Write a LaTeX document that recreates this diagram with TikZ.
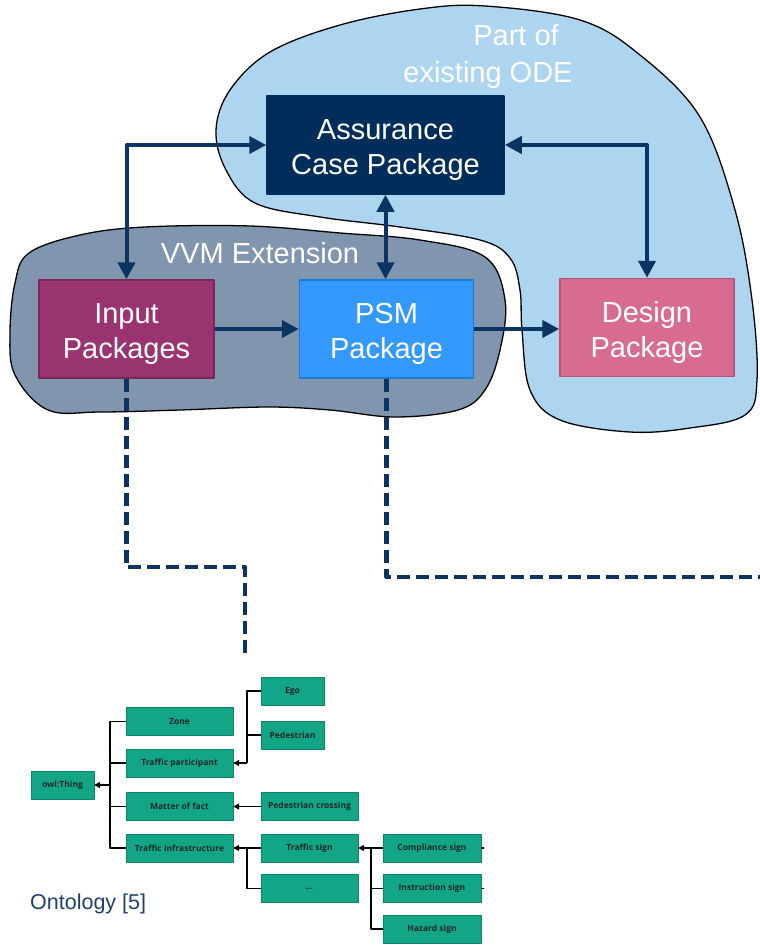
\documentclass[tikz,border=0pt]{standalone}
\usepackage{fontspec}
\setmainfont{Liberation Sans}
\newfontfamily\ontofont{Open Sans}
\usetikzlibrary{arrows.meta}

\definecolor{odeblue}{HTML}{AED5F0}
\definecolor{vvmgray}{HTML}{8096AE}
\definecolor{navy}{HTML}{002D5A}
\definecolor{flowcol}{HTML}{0B3462}
\definecolor{inpcol}{HTML}{9A3470}
\definecolor{inpedge}{HTML}{7A2758}
\definecolor{psmcol}{HTML}{3399FF}
\definecolor{psmedge}{HTML}{1E78D6}
\definecolor{descol}{HTML}{D86C8F}
\definecolor{desedge}{HTML}{B8527A}
\definecolor{teal}{HTML}{12A586}
\definecolor{ontotext}{HTML}{1E2A2A}
\definecolor{ontolabel}{HTML}{1F3F6E}
\newcommand{\pkgstrut}{\rule{0pt}{31pt}}

\begin{document}
\begin{tikzpicture}[x=1pt,y=-1pt,line join=round,
  pkg/.style={minimum height=98pt,text=white,align=center,line width=1.5pt,
    font=\fontsize{29}{35}\selectfont},
  flow/.style={draw=flowcol,line width=4pt,
    arrows={{Triangle[length=17pt,width=17pt]}-{Triangle[length=17pt,width=17pt]}}},
  oneway/.style={draw=flowcol,line width=4pt,-{Triangle[length=17pt,width=17pt]}},
  link/.style={draw=flowcol,line width=4.5pt,dash pattern=on 13pt off 6pt},
  onto/.style={fill=teal,draw=teal!80!black,line width=0.4pt,minimum height=28pt,
    text=ontotext,font=\ontofont\bfseries\fontsize{8.5}{10}\selectfont},
  treeline/.style={draw=black,line width=1.3pt},
  treearrow/.style={treeline,-{Triangle[length=6pt,width=6pt]}}]
\useasboundingbox (0,0) rectangle (760,945);

% blobs
\filldraw[fill=odeblue,draw=black,line width=1.3pt] plot[smooth cycle,tension=0.6] coordinates {
  (485,6) (580,20) (640,55) (700,117) (735,210) (752,300) (757,380) (745,415)
  (690,428) (630,432) (560,420) (530,390) (522,330) (520,290) (510,258)
  (480,240) (400,227) (320,217) (255,203) (226,170) (216,130) (230,90)
  (270,52) (340,25) (420,9)};
\filldraw[fill=vvmgray,draw=black,line width=1.3pt] plot[smooth cycle,tension=0.6] coordinates {
  (29,253) (80,235) (145,227) (250,226) (340,233) (420,240) (485,257)
  (505,300) (500,350) (485,390) (458,410) (395,417) (330,410) (268,407)
  (180,410) (100,412) (48,410) (15,375) (10,333) (15,283)};

\node[text=white,font=\fontsize{29}{35}\selectfont,anchor=base] (odeA) at (516,45) {Part of};
\node[text=white,font=\fontsize{29}{35}\selectfont,anchor=base] (odeB) at (488,82) {existing ODE};
\node[text=white,font=\fontsize{29}{35}\selectfont,anchor=base] (vvm) at (260,263) {VVM Extension};

% packages
\node[pkg,fill=navy,draw=navy,minimum width=237pt] (acp) at (385.5,145) {\pkgstrut Assurance\\Case Package};
\node[pkg,fill=inpcol,draw=inpedge,minimum width=175pt] (inp) at (126.5,329) {\pkgstrut Input\\Packages};
\node[pkg,fill=psmcol,draw=psmedge,minimum width=174pt] (psm) at (386.5,329) {\pkgstrut PSM\\Package};
\node[pkg,fill=descol,draw=desedge,minimum width=174pt] (des) at (647,327.5) {\pkgstrut Design\\Package};

\draw[flow] (inp.north) |- (acp.west);
\draw[flow] (acp.south) -- (acp.south |- psm.north);
\draw[flow] (acp.east) -| (des.north);
\draw[oneway] (inp.east) -- (psm.west);
\draw[oneway] (psm.east) -- (psm.east -| des.west);

% dashed links
\coordinate (inpKnee) at (245,567);
\coordinate (ontoEnd) at (245,654);
\coordinate (psmEnd) at (760,577);
\draw[link] (inp.south) |- (inpKnee) -- (ontoEnd);
\draw[link] (psm.south) |- (psmEnd);

% ontology
\node[onto,minimum width=63pt] (thing) at (62.5,785) {owl:Thing};
\node[onto,minimum width=107pt] (zone) at (179.5,721.5) {Zone};
\node[onto,minimum width=107pt] (tpart) at (179.5,763) {Traffic participant};
\node[onto,minimum width=107pt] (mfact) at (179.5,806.5) {Matter of fact};
\node[onto,minimum width=107pt] (tinfra) at (179.5,848) {Traffic infrastructure};
\node[onto,minimum width=63pt] (ego) at (292.5,691) {Ego};
\node[onto,minimum width=63pt] (ped) at (292.5,735) {Pedestrian};
\node[onto,minimum width=97pt] (pcross) at (309.5,806.5) {Pedestrian crossing};
\node[onto,minimum width=97pt] (tsign) at (309.5,848) {Traffic sign};
\node[onto,minimum width=97pt] (dots) at (309.5,888.5) {...};
\node[onto,minimum width=98pt] (comp) at (432,848) {Compliance sign};
\node[onto,minimum width=98pt] (instr) at (432,888.5) {Instruction sign};
\node[onto,minimum width=98pt] (haz) at (432,929) {Hazard sign};

\coordinate (busA) at (110,785);
\coordinate (busB) at (247,763);
\coordinate (busC) at (247,848);
\coordinate (busD) at (371,848);
\foreach \n in {zone,tpart,mfact,tinfra} \draw[treeline] (\n.west) -| (busA);
\foreach \n in {ego,ped} \draw[treeline] (\n.west) -| (busB);
\draw[treeline] (dots.west) -| (busC) -- (tsign.west);
\foreach \n in {comp,instr,haz} \draw[treeline] (\n.west) -| (busD);
\draw[treearrow] (busA) -- (thing.east);
\draw[treearrow] (busB) -- (tpart.east);
\draw[treearrow] (pcross.west) -- (mfact.east);
\draw[treearrow] (busC) -- (tinfra.east);
\draw[treearrow] (busD) -- (tsign.east);
\draw[treeline] (comp.east) -- ++(3,0);
\draw[treeline] (instr.east) -- ++(3,0);

\node[text=ontolabel,font=\fontsize{21.5}{25}\selectfont,anchor=base west,inner sep=0pt] (ontolbl) at (30,909) {Ontology [5]};
\end{tikzpicture}
\end{document}
